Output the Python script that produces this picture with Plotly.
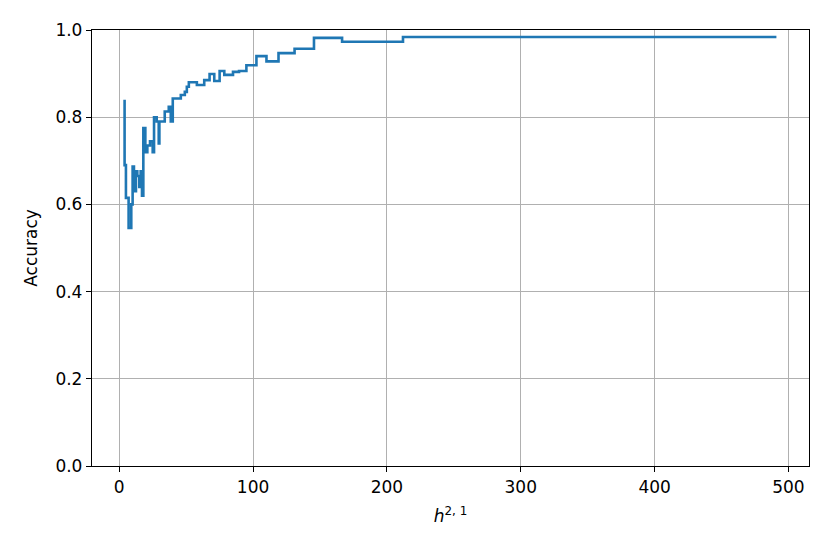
import plotly.graph_objects as go

# step points: x where the value changes, and the new value (line_shape="hv")
h21 = [4, 4, 5, 7, 9, 10, 11, 12.5, 13.5, 15, 16, 17, 18, 19.5, 21, 23, 25, 26,
       28, 29.5, 30, 34, 37, 38.5, 40, 46, 49, 50.5, 52, 58, 63.5, 67.5, 71,
       75, 78.5, 85, 89.5, 95, 102.5, 110, 119, 131, 145.5, 166.5, 212, 491]
accuracy = [0.84, 0.69, 0.615, 0.546, 0.60, 0.687, 0.63, 0.676, 0.665, 0.64,
            0.676, 0.62, 0.775, 0.72, 0.735, 0.745, 0.72, 0.80,
            0.79, 0.74, 0.79, 0.813, 0.824, 0.79, 0.843, 0.851, 0.858, 0.87,
            0.88, 0.874, 0.885, 0.899, 0.883,
            0.906, 0.897, 0.904, 0.906, 0.919, 0.94, 0.928, 0.947, 0.957,
            0.982, 0.973, 0.984, 0.984]

x_ticks = [0, 100, 200, 300, 400, 500]
y_ticks = [0.0, 0.2, 0.4, 0.6, 0.8, 1.0]

FONT = "DejaVu Sans"

fig = go.Figure()
fig.add_trace(go.Scatter(
    x=h21, y=accuracy,
    mode="lines",
    line=dict(color="#1f77b4", width=2.6, shape="hv"),
    showlegend=False,
))

axis_common = dict(
    showgrid=True,
    gridcolor="#b0b0b0",
    gridwidth=1.1,
    showline=True,
    linecolor="black",
    linewidth=1.3,
    mirror=True,
    ticks="outside",
    ticklen=5,
    tickwidth=1.1,
    tickcolor="black",
    zeroline=False,
    tickfont=dict(family=FONT, size=17, color="black"),
)

# page body has an 8px margin, so the figure is a bit smaller than the window
fig.update_layout(
    width=822,
    height=546,
    paper_bgcolor="white",
    plot_bgcolor="white",
    margin=dict(l=84, r=21, t=20, b=88),
    font=dict(family=FONT, size=17, color="black"),
    xaxis=dict(
        axis_common,
        range=[-20.35, 515.35],
        tickvals=x_ticks,
        ticktext=[str(v) for v in x_ticks],
        title=dict(text="<i>h</i><sup>2, 1</sup>", standoff=14,
                   font=dict(family=FONT, size=17)),
    ),
    yaxis=dict(
        axis_common,
        range=[0, 1],
        tickvals=y_ticks,
        ticktext=[f"{v:.1f}" for v in y_ticks],
        title=dict(text="Accuracy", standoff=13,
                   font=dict(family=FONT, size=17)),
    ),
)

fig.write_html("out.html")
